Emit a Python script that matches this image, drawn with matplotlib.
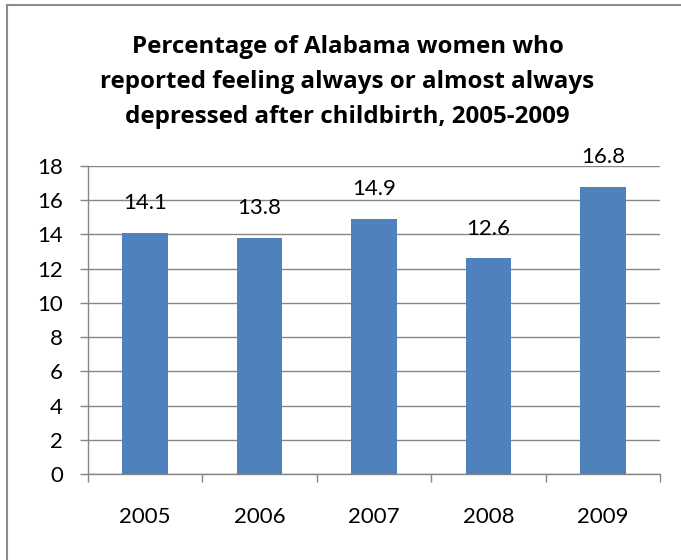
import matplotlib
matplotlib.use("Agg")
import matplotlib.pyplot as plt
from matplotlib.lines import Line2D

years = ["2005", "2006", "2007", "2008", "2009"]
pct = [14.1, 13.8, 14.9, 12.6, 16.8]
yticks = [0, 2, 4, 6, 8, 10, 12, 14, 16, 18]
title_lines = ["Percentage of Alabama women who",
               "reported feeling always or almost always",
               "depressed after childbirth, 2005-2009"]

plt.rcParams["font.family"] = ["Lato", "DejaVu Sans"]

grey = "#868686"
blue = "#4F81BD"

fig = plt.figure(figsize=(6.81, 5.6), dpi=100)
ax = fig.add_axes([88/681, 1-474/560, (660-88)/681, (474-166)/560])

x = range(len(years))
ax.bar(x, pct, width=0.4, color=blue, zorder=3)

for xi, v in zip(x, pct):
    ax.annotate(f"{v:.1f}", (xi, v), xytext=(0, 17), textcoords="offset points",
                ha="center", va="baseline", fontsize=16, color="black")

ax.set_xlim(-0.5, len(years) - 0.5)
ax.set_ylim(0, 18)
ax.set_yticks(yticks)
ax.set_xticks(list(x))
ax.set_xticklabels(years)
ax.set_xticks([i - 0.5 for i in range(len(years) + 1)], minor=True)

ax.yaxis.grid(True, color=grey, linewidth=1.0, zorder=0)
ax.set_axisbelow(True)

for s in ["top", "right"]:
    ax.spines[s].set_visible(False)
for s in ["left", "bottom"]:
    ax.spines[s].set_color(grey)
    ax.spines[s].set_linewidth(1.0)

ax.tick_params(axis="y", length=6, width=1.0, color=grey, pad=12, labelsize=16)
ax.tick_params(axis="x", which="major", length=0, pad=24, labelsize=16)
ax.tick_params(axis="x", which="minor", length=6, width=1.0, color=grey)

# title, one line at a time (baselines 35 px apart)
for i, line in enumerate(title_lines):
    fig.text(347.5/681, 1-(53 + 35*i)/560, line, ha="center", va="baseline",
             fontsize=17.4, fontweight="bold", family=["Open Sans", "DejaVu Sans"])

# chart frame (only top and left edges fall inside the image)
fig.add_artist(Line2D([7/681, 7/681], [-0.1, 1-5/560], transform=fig.transFigure,
                      color="#8c8c8c", linewidth=1.5))
fig.add_artist(Line2D([7/681, 1.1], [1-5/560, 1-5/560], transform=fig.transFigure,
                      color="#8c8c8c", linewidth=1.5))

fig.savefig("out.png", dpi=100)
